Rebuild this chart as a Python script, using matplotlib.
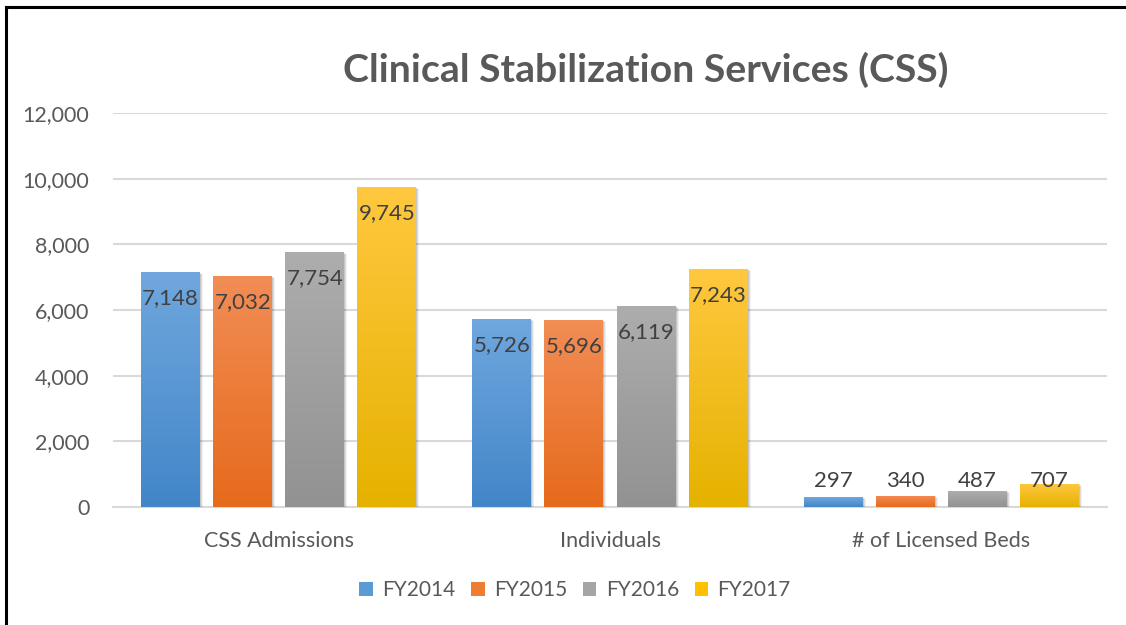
import matplotlib
matplotlib.use("Agg")
import matplotlib.pyplot as plt
import numpy as np
from matplotlib.patches import Rectangle, Patch
from matplotlib.lines import Line2D
from matplotlib.colors import LinearSegmentedColormap
import matplotlib.transforms as mtransforms

categories = ["CSS Admissions", "Individuals", "# of Licensed Beds"]
series_names = ["FY2014", "FY2015", "FY2016", "FY2017"]
fy2014 = [7148, 5726, 297]
fy2015 = [7032, 5696, 340]
fy2016 = [7754, 6119, 487]
fy2017 = [9745, 7243, 707]
series_values = [fy2014, fy2015, fy2016, fy2017]
yticks = [0, 2000, 4000, 6000, 8000, 10000, 12000]
title = "Clinical Stabilization Services (CSS)"

top_colors = ["#70a7de", "#f28d55", "#adadad", "#ffc83f"]
bot_colors = ["#4286c8", "#e66a1c", "#929292", "#e5b200"]
legend_colors = ["#5b9bd5", "#ed7d31", "#a5a5a5", "#ffc000"]

plt.rcParams["font.family"] = ["Lato", "DejaVu Sans"]

W, H = 1126, 625
fig = plt.figure(figsize=(W / 100, H / 100), dpi=100)
fig.patch.set_facecolor("white")

# frame (left and top edges visible)
fig.add_artist(Line2D([6 / W, 6 / W], [-0.05, 1 - 7 / H], transform=fig.transFigure,
                      color="black", linewidth=2.2, solid_capstyle="projecting"))
fig.add_artist(Line2D([6 / W, 1.05], [1 - 7 / H, 1 - 7 / H], transform=fig.transFigure,
                      color="black", linewidth=2.2, solid_capstyle="projecting"))

ax = fig.add_axes([113 / W, (H - 507) / H, (1107 - 113) / W, (507 - 113) / H])
ax.set_facecolor("white")

x = np.arange(len(categories))
bw = 0.178
step = 0.2175

for i, vals in enumerate(series_values):
    cmap = LinearSegmentedColormap.from_list("g%d" % i, [bot_colors[i], top_colors[i]])
    grad = np.linspace(0, 1, 256).reshape(-1, 1)
    for j, v in enumerate(vals):
        x0 = x[j] + (i - 1.5) * step - bw / 2
        # shadow
        for k, (dx, a) in enumerate([(3, 0.06), (2, 0.08), (1, 0.10)]):
            off = mtransforms.offset_copy(ax.transData, fig=fig, x=dx, y=-dx * 0.6, units="dots")
            ax.add_patch(Rectangle((x0, 0), bw, v, transform=off, facecolor="black",
                                   alpha=a, edgecolor="none", zorder=2))
        rect = Rectangle((x0, 0), bw, v, facecolor="none", edgecolor="none", zorder=3)
        ax.add_patch(rect)
        im = ax.imshow(grad, cmap=cmap, extent=[x0, x0 + bw, 0, v], origin="lower",
                       aspect="auto", zorder=3, interpolation="bilinear")
        im.set_clip_path(rect)
        ly = max(v - 790, 790)
        ax.text(x[j] + (i - 1.5) * step, ly, f"{v:,}", ha="center", va="center",
                fontsize=16, color="#404040", zorder=5)

ax.set_xlim(-0.5, 2.5)
ax.set_ylim(0, 12000)
ax.set_yticks(yticks)
ax.set_yticklabels([f"{t:,}" for t in yticks])
ax.set_xticks(x)
ax.set_xticklabels(categories)
ax.grid(axis="y", color="#d9d9d9", linewidth=1.5, zorder=0)
ax.set_axisbelow(True)
for s in ["left", "right", "top"]:
    ax.spines[s].set_visible(False)
ax.spines["bottom"].set_color("#d9d9d9")
ax.spines["bottom"].set_linewidth(1.5)
ax.spines["bottom"].set_zorder(1)
ax.tick_params(axis="y", length=0, labelsize=15.5, labelcolor="#595959", pad=17)
ax.tick_params(axis="x", length=0, labelsize=15.5, labelcolor="#595959", pad=17)

fig.text(646 / W, 1 - 70 / H, title, ha="center", va="center", fontsize=28.3,
         fontweight="bold", color="#595959")

handles = [Patch(facecolor=c, edgecolor="none") for c in legend_colors]
fig.legend(handles, series_names, loc="center", bbox_to_anchor=(575 / W, 1 - 590 / H),
           ncol=4, frameon=False, fontsize=15, handlelength=0.65, handleheight=0.65,
           handletextpad=0.45, columnspacing=0.75, labelcolor="#595959")

fig.savefig("out.png", dpi=100, facecolor="white")
